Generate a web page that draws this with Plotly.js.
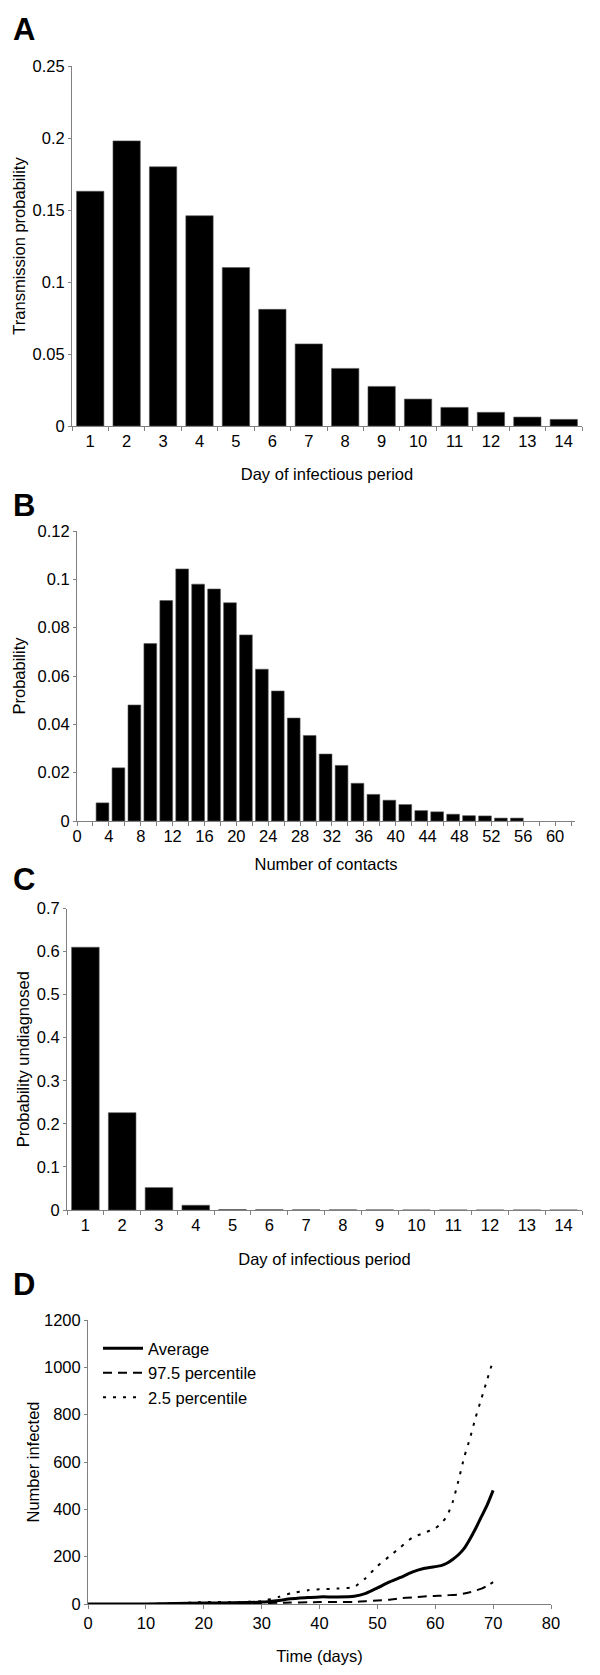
<!DOCTYPE html>
<html>
<head>
<meta charset="utf-8">
<script src="https://cdn.plot.ly/plotly-3.0.1.min.js"></script>
<style>html,body{margin:0;padding:0;background:#fff;}#chart{width:600px;height:1675px;}</style>
</head>
<body>
<div id="chart"></div>
<script>
// ---- Panel A: transmission probability by day of infectious period
var daysA = [1,2,3,4,5,6,7,8,9,10,11,12,13,14];
var transmissionProb = [0.163,0.198,0.180,0.146,0.110,0.081,0.057,0.040,0.0275,0.0187,0.0129,0.0095,0.0062,0.0046];

// ---- Panel B: distribution of number of contacts
var contacts = [3,5,7,9,11,13,15,17,19,21,23,25,27,29,31,33,35,37,39,41,43,45,47,49,51,53,55];
var contactProb = [0.0075,0.022,0.048,0.0734,0.0912,0.1043,0.098,0.096,0.0903,0.077,0.0628,0.0538,0.0426,0.0354,0.0277,0.023,0.0156,0.011,0.0086,0.0068,0.0043,0.0038,0.0028,0.0022,0.0021,0.0012,0.0012];
var contactTicks = [0,4,8,12,16,20,24,28,32,36,40,44,48,52,56,60];

// ---- Panel C: probability undiagnosed by day of infectious period
var daysC = [1,2,3,4,5,6,7,8,9,10,11,12,13,14];
var undiagnosedProb = [0.61,0.226,0.052,0.011,0.0009,0.0006,0.0004,0.0003,0.0002,0,0,0,0,0];

// ---- Panel D: number infected over time
var timeDays = [0,5,10,15,20,25,30,33,35,38,40,43,46,48,50,52,54,56,58,60,61,62,63,64,65,66,67,68,69,70];
var average  = [0,0,0,2,4,5,8,15,22,27,30,30,33,45,68,92,112,135,150,158,162,172,188,208,235,275,320,370,420,480];
var pct975   = [0,0,0,0,2,3,4,5,6,7,8,8,9,12,15,18,24,28,32,34,35,37,38,40,44,50,57,65,78,92];
var pct25    = [0,0,0,3,8,8,12,30,45,58,62,65,72,110,160,200,240,280,300,320,340,370,430,520,620,700,790,870,950,1030];
var dayTicksD = [0,10,20,30,40,50,60,70,80];

var W = 600, H = 1675;
function xd(a,b){return [a/W,b/W];}
function yd(top,bot){return [1-bot/H,1-top/H];}

var FONT = 'Liberation Sans, Arial, sans-serif';
var tickFont = {family: FONT, size: 16.5, color: '#000'};
var titleFont = {family: FONT, size: 16.5, color: '#000'};
var axisColor = '#808080';

var barStyle = {color: '#000', line: {color: '#555', width: 0.6}};

var traces = [
  {type:'bar', x: daysA, y: transmissionProb, xaxis:'x', yaxis:'y', marker: barStyle, showlegend:false},
  {type:'bar', x: contacts, y: contactProb, xaxis:'x2', yaxis:'y2', marker: barStyle, width: 1.6, offset: -0.6, showlegend:false},
  {type:'bar', x: daysC, y: undiagnosedProb, xaxis:'x3', yaxis:'y3', marker: barStyle, showlegend:false},
  {type:'scatter', mode:'lines', name:'Average', x: timeDays, y: average, xaxis:'x4', yaxis:'y4',
   line:{color:'#000', width:3, shape:'spline', smoothing:0.6}},
  {type:'scatter', mode:'lines', name:'97.5 percentile', x: timeDays, y: pct975, xaxis:'x4', yaxis:'y4',
   line:{color:'#000', width:2, dash:'9px,6px', shape:'spline', smoothing:0.6}},
  {type:'scatter', mode:'lines', name:'2.5 percentile', x: timeDays, y: pct25, xaxis:'x4', yaxis:'y4',
   line:{color:'#000', width:2, dash:'3px,7px', shape:'spline', smoothing:0.5}}
];

function baseAxis(extra){
  var o = {showgrid:false, zeroline:false, showline:true, linecolor:axisColor, linewidth:1, automargin:false,
           ticks:'outside', ticklen:4, tickcolor:axisColor, tickfont:tickFont, fixedrange:true};
  for (var k in extra) o[k]=extra[k];
  return o;
}

function letter(t, yTop){
  return {text:'<b>'+t+'</b>', xref:'paper', yref:'paper', x:11/W, y:1-yTop/H, xanchor:'left', yanchor:'top',
          showarrow:false, font:{family:FONT, size:31, color:'#000'}};
}

var layout = {
  width: W, height: H,
  margin: {l:0, r:0, t:0, b:0},
  paper_bgcolor:'#fff', plot_bgcolor:'#fff',
  font: {family: FONT, color:'#000'},
  bargap: 0.25,
  showlegend: true,
  legend: {x: 98/W, y: 1-1331/H, xanchor:'left', yanchor:'top', bgcolor:'rgba(0,0,0,0)',
           font:{family: FONT, size:16.5, color:'#000'}, tracegroupgap:0, itemwidth:40},

  // Panel A
  xaxis: baseAxis({domain: xd(72,582), anchor:'y', type:'category', tickson:'boundaries',
                   title:{text:'Day of infectious period', font:titleFont, standoff:19}}),
  yaxis: baseAxis({domain: yd(66,426), anchor:'x', range:[0,0.25], tickvals:[0,0.05,0.1,0.15,0.2,0.25],
                   ticktext:['0','0.05','0.1','0.15','0.2','0.25'], ticklen:3,
                   title:{text:'Transmission probability', font:titleFont, standoff:2}}),

  // Panel B
  xaxis2: baseAxis({domain: xd(77,575), anchor:'y2', range:[0,62.5], tickvals: contactTicks, ticks:'',
                    minor:{dtick:2, tick0:0, ticks:'outside', ticklen:4, tickcolor:axisColor},
                    title:{text:'Number of contacts', font:titleFont, standoff:14}}),
  yaxis2: baseAxis({domain: yd(531,821), anchor:'x2', range:[0,0.12], tickvals:[0,0.02,0.04,0.06,0.08,0.1,0.12],
                    ticktext:['0','0.02','0.04','0.06','0.08','0.1','0.12'], ticklen:3,
                    title:{text:'Probability', font:titleFont, standoff:7}}),

  // Panel C
  xaxis3: baseAxis({domain: xd(67,582), anchor:'y3', type:'category', tickson:'boundaries',
                    title:{text:'Day of infectious period', font:titleFont, standoff:20}}),
  yaxis3: baseAxis({domain: yd(908.5,1210), anchor:'x3', range:[0,0.7], tickvals:[0,0.1,0.2,0.3,0.4,0.5,0.6,0.7],
                    ticktext:['0','0.1','0.2','0.3','0.4','0.5','0.6','0.7'], ticklen:3,
                    title:{text:'Probability undiagnosed', font:titleFont, standoff:2}}),

  // Panel D
  xaxis4: baseAxis({domain: xd(88,551), anchor:'y4', range:[0,80], tickvals: dayTicksD,
                    title:{text:'Time (days)', font:titleFont, standoff:19}}),
  yaxis4: baseAxis({domain: yd(1320,1604), anchor:'x4', range:[0,1200], tickvals:[0,200,400,600,800,1000,1200], ticklen:3,
                    title:{text:'Number infected', font:titleFont, standoff:0}}),

  annotations: [letter('A', 10), letter('B', 486), letter('C', 860), letter('D', 1265)]
};

Plotly.newPlot('chart', traces, layout, {displayModeBar:false, staticPlot:true});
</script>
</body>
</html>
